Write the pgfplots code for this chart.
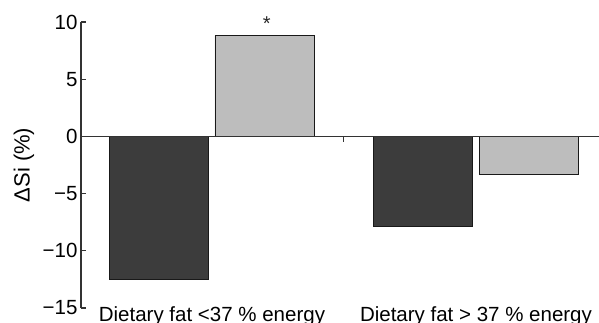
\documentclass[border=0pt]{standalone}
\usepackage{fontspec}
\setmainfont{Liberation Sans}
\usepackage{pgfplots}
\pgfplotsset{compat=1.18}
\definecolor{darkbar}{HTML}{3C3C3C}
\definecolor{lightbar}{HTML}{BDBDBD}
\definecolor{axisgray}{HTML}{333333}
\newcommand\tickfont{\fontsize{20.5}{23}\selectfont}
\newcommand\catfont{\fontsize{20.5}{23}\selectfont}
\newcommand\labfont{\fontsize{22}{25}\selectfont}
\newcommand\starfont{\fontsize{20}{22}\selectfont}
\begin{document}
\begin{tikzpicture}
\begin{axis}[
  name=ax,
  scale only axis,
  width=518pt, height=286pt,
  xmin=-0.496, xmax=1.466,
  ymin=-15, ymax=10,
  axis y line=left,
  axis x line=bottom,
  x axis line style={draw=none},
  y axis line style={-, line width=1.2pt, draw=axisgray},
  ytick={-15,-10,-5,0,5,10},
  yticklabels={−15,−10,−5,0,5,10},
  yticklabel style={font=\tickfont, text=black},
  ytick style={line width=1.2pt, draw=axisgray},
  tick align=inside,
  major tick length=5pt,
  xtick={0,1},
  xticklabels={Dietary fat <37 \% energy, Dietary fat > 37 \% energy},
  xticklabel style={font=\catfont, anchor=base, yshift=-8.5pt},
  xtick style={draw=none},
  ylabel={ΔSi (\%)},
  ylabel style={at={(axis description cs:-0.110,0.5)}, anchor=center, font=\labfont},
  ybar,
  bar width=0.375,
  clip=false,
]
\addplot[ybar, bar shift=-0.199, fill=darkbar, draw=black!90, line width=0.9pt] coordinates {(0,-12.5) (1,-7.9)};
\addplot[ybar, bar shift=0.199, fill=lightbar, draw=black!90, line width=0.9pt] coordinates {(0,8.8) (1,-3.3)};
\addplot[sharp plot, no marks, draw=axisgray, line width=1.2pt, forget plot] coordinates {(-0.496,0) (1.466,0)};
\draw[draw=axisgray, line width=1pt] (axis cs:0.5,0) -- ++(0pt,-6pt);
\node[anchor=center, font=\starfont, text=black!85] at (axis cs:0.208,9.85) {*};
\end{axis}
\pgfresetboundingbox
\path (ax.south west) ++(-81pt,-14pt) coordinate (bbA);
\path (ax.north east) ++(0pt,22pt) coordinate (bbB);
\path (bbA) rectangle (bbB);
\end{tikzpicture}
\end{document}
